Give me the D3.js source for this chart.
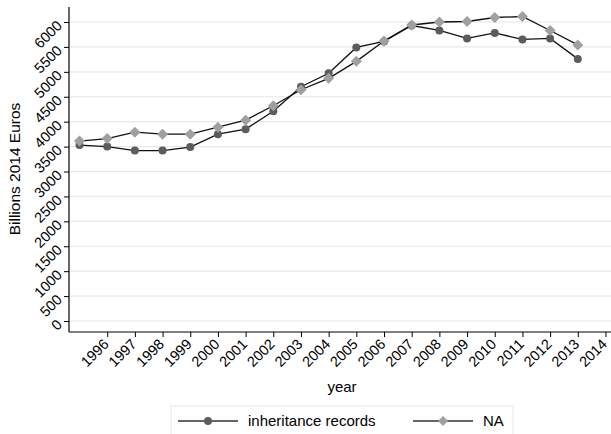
<!DOCTYPE html>
<html lang="en">
<head>
    <meta charset="UTF-8">
    <title>Inheritance flows</title>
    <script src="https://d3js.org/d3.v7.min.js"></script>
    <style>
        body {
            margin: 0;
            background: #fff;
            font-family: "Liberation Sans", Arial, sans-serif;
        }
        svg text {
            fill: #000;
        }
    </style>
</head>
<body>
    <svg width="611" height="434"></svg>
    <script>
        // data (billions 2014 euros)
        const years = [1995, 1996, 1997, 1998, 1999, 2000, 2001, 2002, 2003, 2004,
                       2005, 2006, 2007, 2008, 2009, 2010, 2011, 2012, 2013];
        const inheritance = [3530, 3500, 3420, 3420, 3490, 3750, 3850, 4210, 4700, 4970,
                             5490, 5610, 5930, 5830, 5670, 5780, 5650, 5670, 5260];
        const na = [3610, 3660, 3790, 3750, 3750, 3890, 4030, 4320, 4640, 4870,
                    5210, 5620, 5940, 6000, 6010, 6090, 6110, 5830, 5540];
        const xTicks = [1996, 1997, 1998, 1999, 2000, 2001, 2002, 2003, 2004, 2005,
                        2006, 2007, 2008, 2009, 2010, 2011, 2012, 2013, 2014];
        const yTicks = [0, 500, 1000, 1500, 2000, 2500, 3000, 3500, 4000, 4500, 5000, 5500, 6000];
        const seriesNames = ["inheritance records", "NA"];

        const svg = d3.select("svg");
        const pLeft = 69, pRight = 611, pTop = 7, pBottom = 332;

        const x = d3.scaleLinear().domain([1994.62, 2014.2]).range([pLeft, pRight]);
        const y = d3.scaleLinear().domain([0, 6000]).range([321, 22]);

        // gridlines
        svg.append("g")
            .selectAll("line")
            .data(yTicks)
            .join("line")
            .attr("x1", pLeft + 1)
            .attr("x2", pRight)
            .attr("y1", d => y(d))
            .attr("y2", d => y(d))
            .attr("stroke", "#e8e8e8")
            .attr("stroke-width", 1.2);

        // y axis
        const yAxis = svg.append("g")
            .attr("transform", `translate(${pLeft},0)`)
            .call(d3.axisLeft(y).tickValues(yTicks).tickFormat(d3.format("d")).tickSize(5));
        yAxis.select(".domain").attr("d", `M-0,${pTop}V${pBottom}`).attr("stroke", "#000").attr("stroke-width", 1.2);
        yAxis.selectAll(".tick line").attr("stroke", "#000");
        yAxis.selectAll(".tick text")
            .attr("font-size", 14.5)
            .attr("font-family", "Liberation Sans, Arial, sans-serif")
            .attr("text-anchor", "end")
            .attr("x", null)
            .attr("dy", null)
            .attr("transform", "translate(-6,4) rotate(-45)");

        // x axis
        const xAxis = svg.append("g")
            .attr("transform", `translate(0,${pBottom})`)
            .call(d3.axisBottom(x).tickValues(xTicks).tickFormat(d3.format("d")).tickSize(5));
        xAxis.select(".domain").attr("d", `M${pLeft},0H${pRight}`).attr("stroke", "#000").attr("stroke-width", 1.2);
        xAxis.selectAll(".tick line").attr("stroke", "#000");
        xAxis.selectAll(".tick text")
            .attr("font-size", 14.5)
            .attr("font-family", "Liberation Sans, Arial, sans-serif")
            .attr("text-anchor", "end")
            .attr("y", null)
            .attr("dy", null)
            .attr("transform", "translate(2,13) rotate(-45)");

        // axis titles
        svg.append("text")
            .attr("x", 342)
            .attr("y", 392)
            .attr("text-anchor", "middle")
            .attr("font-size", 15)
            .text("year");
        svg.append("text")
            .attr("transform", "translate(20,169) rotate(-90)")
            .attr("text-anchor", "middle")
            .attr("font-size", 15.5)
            .text("Billions 2014 Euros");

        const line = d3.line().x(d => x(d[0])).y(d => y(d[1]));
        const diamond = s => `M0,${-s}L${s},0L0,${s}L${-s},0Z`;

        const inhData = years.map((yr, i) => [yr, inheritance[i]]);
        const naData = years.map((yr, i) => [yr, na[i]]);

        // inheritance records
        svg.append("path").datum(inhData)
            .attr("d", line).attr("fill", "none").attr("stroke", "#111").attr("stroke-width", 1.3);
        svg.append("g").selectAll("circle").data(inhData).join("circle")
            .attr("cx", d => x(d[0])).attr("cy", d => y(d[1])).attr("r", 4)
            .attr("fill", "#5c5c5c");

        // NA
        svg.append("path").datum(naData)
            .attr("d", line).attr("fill", "none").attr("stroke", "#111").attr("stroke-width", 1.3);
        svg.append("g").selectAll("path").data(naData).join("path")
            .attr("transform", d => `translate(${x(d[0])},${y(d[1])})`)
            .attr("d", diamond(5.5))
            .attr("fill", "#a0a0a0");

        // legend
        const lg = svg.append("g");
        lg.append("rect")
            .attr("x", 171).attr("y", 406).attr("width", 342).attr("height", 40)
            .attr("fill", "#fff").attr("stroke", "#ececec").attr("stroke-width", 1.2);
        const items = [
            {x0: 178, name: seriesNames[0], mark: "circle"},
            {x0: 413, name: seriesNames[1], mark: "diamond"}
        ];
        items.forEach(it => {
            lg.append("line").attr("x1", it.x0).attr("x2", it.x0 + 60)
                .attr("y1", 421).attr("y2", 421).attr("stroke", "#333").attr("stroke-width", 1.3);
            if (it.mark === "circle") {
                lg.append("circle").attr("cx", it.x0 + 30).attr("cy", 421).attr("r", 4).attr("fill", "#5c5c5c");
            } else {
                lg.append("path").attr("transform", `translate(${it.x0 + 30},421)`)
                    .attr("d", diamond(5)).attr("fill", "#a0a0a0");
            }
            lg.append("text").attr("x", it.x0 + 70).attr("y", 426)
                .attr("font-size", 15).text(it.name);
        });
    </script>
</body>
</html>
